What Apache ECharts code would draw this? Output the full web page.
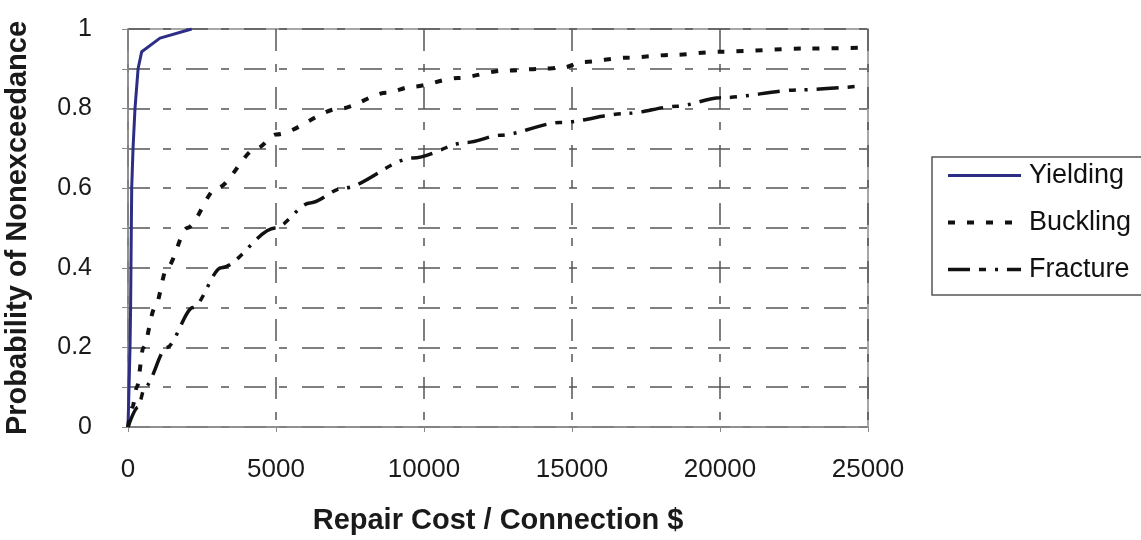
<!DOCTYPE html>
<html>
<head>
<meta charset="utf-8">
<script src="https://cdn.jsdelivr.net/npm/echarts@6/dist/echarts.min.js"></script>
<style>
html,body{margin:0;padding:0;background:#fff;}
#chart{width:1141px;height:540px;}
</style>
</head>
<body>
<div id="chart"></div>
<script>
// Repair cost ($) vs probability of nonexceedance
const yieldingData = [[0,0],[35,0.1],[68,0.2],[88,0.3],[100,0.4],[112,0.5],[125,0.6],[170,0.7],[236,0.8],[340,0.9],[463,0.943],[1080,0.977],[2150,1.0]];
const bucklingData = [[0,0],[150,0.05],[300,0.1],[520,0.2],[910,0.3],[1320,0.4],[2000,0.5],[3000,0.6],[4350,0.7],[5000,0.735],[7160,0.8],[8750,0.84],[9600,0.855],[11150,0.877],[12670,0.895],[14000,0.9],[14700,0.903],[15340,0.917],[16860,0.928],[18400,0.935],[20000,0.943],[22940,0.951],[24800,0.953]];
const fractureData = [[0,0],[340,0.05],[570,0.1],[1310,0.2],[2200,0.3],[3150,0.4],[4970,0.5],[6150,0.563],[7260,0.6],[9630,0.676],[11450,0.715],[12570,0.733],[14600,0.765],[16860,0.788],[18550,0.806],[20000,0.827],[22700,0.847],[24800,0.857]];
const seriesNames = ['Yielding','Buckling','Fracture'];
const xTicks = [0,5000,10000,15000,20000,25000];
const yTicks = [0,0.2,0.4,0.6,0.8,1];

const lineWidths = [3,4,3.5];
const gridDash = [22,13,8,15];
const chart = echarts.init(document.getElementById('chart'));
chart.setOption({
  animation:false,
  backgroundColor:'#fff',
  textStyle:{fontFamily:'Liberation Sans, Arial, sans-serif'},
  grid:{left:128,right:273,top:29,bottom:113,containLabel:false,outerBoundsMode:'none',
    show:true,borderColor:'#8a8a8a',borderWidth:1.5,backgroundColor:'transparent'},
  legend:{
    orient:'vertical',left:932,top:157,
    data:seriesNames.map((n,i)=>({name:n,lineStyle:{width:lineWidths[i]}})),
    itemWidth:73,itemHeight:14,itemGap:20,
    padding:[5,12,12,14],
    borderColor:'#555',borderWidth:1.5,backgroundColor:'#fff',
    itemStyle:{opacity:0},
    textStyle:{fontSize:27,color:'#111',lineHeight:27,padding:[0,0,0,3]}
  },
  xAxis:{
    type:'value',min:0,max:25000,interval:5000,
    name:'Repair Cost / Connection $',nameLocation:'middle',nameGap:79,
    nameTextStyle:{fontSize:29,fontWeight:'bold',color:'#1a1a1a'},
    axisLine:{show:true,lineStyle:{color:'#8a8a8a',width:1.5}},
    axisTick:{show:true,length:5,lineStyle:{color:'#8a8a8a'}},
    axisLabel:{fontSize:26,color:'#1a1a1a',margin:30,
      formatter:v=>xTicks.indexOf(v)>=0?String(v):''},
    splitLine:{show:true,lineStyle:{color:'#555',width:1.5,type:gridDash}}
  },
  yAxis:{
    type:'value',min:0,max:1,interval:0.1,
    name:'Probability of Nonexceedance',nameLocation:'middle',nameGap:96,nameRotate:90,
    nameTextStyle:{fontSize:29,fontWeight:'bold',color:'#1a1a1a'},
    axisLine:{show:true,lineStyle:{color:'#8a8a8a',width:1.5}},
    axisTick:{show:true,length:6,lineStyle:{color:'#8a8a8a'}},
    axisLabel:{fontSize:25,color:'#1a1a1a',margin:36,
      formatter:v=>{const r=Math.round(v*10)/10;return yTicks.some(t=>Math.abs(t-r)<1e-6)?String(r):'';}},
    splitLine:{show:true,lineStyle:{color:'#555',width:1.5,type:gridDash}}
  },
  series:[
    {name:'Yielding',type:'line',data:yieldingData,symbol:'none',smooth:false,
      color:'#2d2d86',lineStyle:{color:'#2d2d86',width:lineWidths[0]}},
    {name:'Buckling',type:'line',data:bucklingData,symbol:'none',smooth:0.3,smoothMonotone:'x',
      color:'#111',lineStyle:{color:'#111',width:lineWidths[1],type:[7,12]}},
    {name:'Fracture',type:'line',data:fractureData,symbol:'none',smooth:0.3,smoothMonotone:'x',
      color:'#111',lineStyle:{color:'#111',width:lineWidths[2],type:[22,9,7,9,3,9]}}
  ]
});
</script>
</body>
</html>
